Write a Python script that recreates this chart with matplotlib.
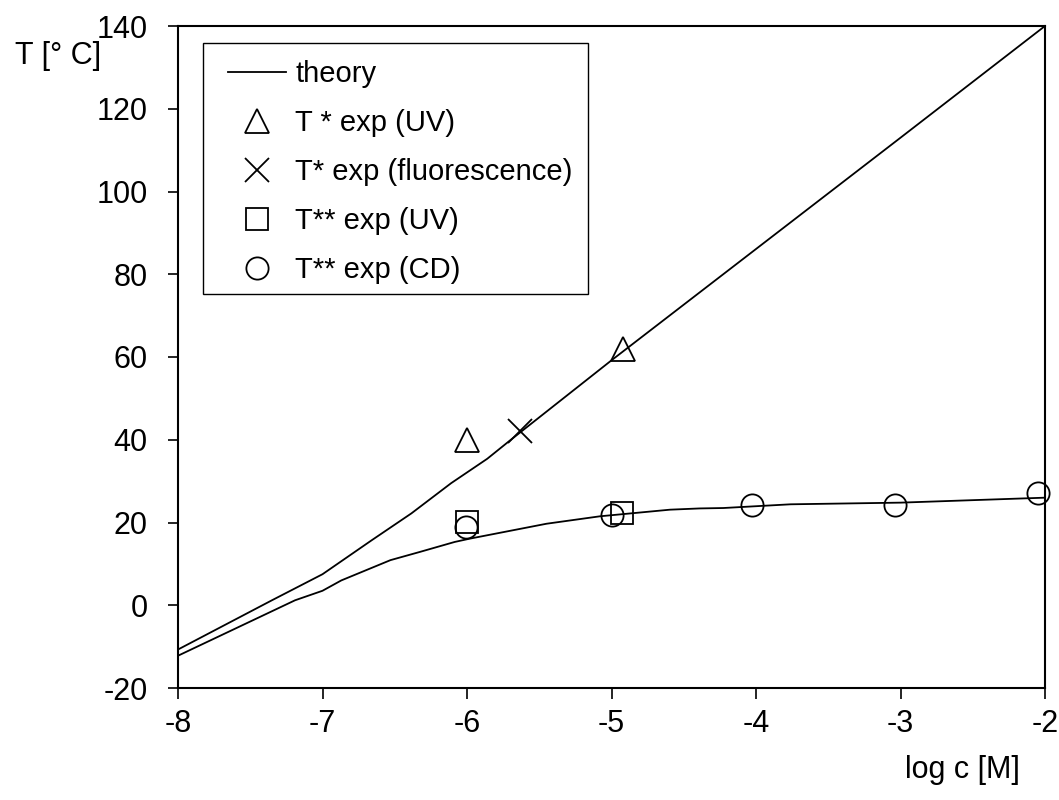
import matplotlib
matplotlib.use("Agg")
import matplotlib.pyplot as plt
from matplotlib.patches import Rectangle

# theory curves
theory_hi_x = [-8.0, -7.35, -7.0, -6.66, -6.385, -6.11, -5.86, -5.70, -5.0, -4.0, -3.0, -2.0]
theory_hi_y = [-10.7, 1.2, 7.5, 15.7, 22.2, 29.5, 35.4, 39.9, 59.2, 86.1, 113.0, 140.0]

theory_lo_x = [-8.0, -7.19, -7.0, -6.87, -6.53, -6.325, -6.085, -5.98, -5.45, -5.08,
               -4.595, -4.39, -4.226, -3.76, -3.0, -2.0]
theory_lo_y = [-12.2, 1.2, 3.5, 6.0, 10.9, 12.9, 15.3, 16.1, 19.7, 21.5,
               23.1, 23.4, 23.5, 24.4, 24.8, 26.0]

# experimental points
tri_x = [-6.0, -4.92]
tri_y = [40.0, 62.0]
cross_x = [-5.63]
cross_y = [42.0]
sq_x = [-6.0, -4.93]
sq_y = [20.1, 22.3]
circ_x = [-6.01, -5.0, -4.03, -3.04, -2.05]
circ_y = [18.9, 21.9, 24.2, 24.2, 27.1]

xticks = [-8, -7, -6, -5, -4, -3, -2]
yticks = [-20, 0, 20, 40, 60, 80, 100, 120, 140]

plt.rcParams['font.family'] = ['Liberation Sans', 'DejaVu Sans']
fs = 22

fig = plt.figure(figsize=(10.59, 8.0), dpi=100)
ax = fig.add_axes([178/1059, 1 - 688/800, (1045 - 178)/1059, (688 - 26)/800])

lw = 1.3
line_hi, = ax.plot(theory_hi_x, theory_hi_y, color='black', lw=lw, label='theory')
ax.plot(theory_lo_x, theory_lo_y, color='black', lw=lw)

mk = dict(linestyle='none', markerfacecolor='none', markeredgecolor='black',
          markeredgewidth=1.3, clip_on=False)
h_tri, = ax.plot(tri_x, tri_y, marker='^', markersize=17, label='T * exp (UV)', **mk)
h_x, = ax.plot(cross_x, cross_y, marker='x', markersize=17, label='T* exp (fluorescence)', **mk)
h_sq, = ax.plot(sq_x, sq_y, marker='s', markersize=16, label='T** exp (UV)', **mk)
h_c, = ax.plot(circ_x, circ_y, marker='o', markersize=16, label='T** exp (CD)', **mk)

ax.set_xlim(-8, -2)
ax.set_ylim(-20, 140)
ax.set_xticks(xticks)
ax.set_yticks(yticks)
ax.set_xticklabels([str(t) for t in xticks], fontsize=fs)
ax.set_yticklabels([str(t) for t in yticks], fontsize=fs)
ax.tick_params(axis='y', direction='out', length=7, width=1.2, pad=15)
ax.tick_params(axis='x', direction='out', length=8, width=1.2, pad=7)
for s in ax.spines.values():
    s.set_linewidth(1.5)

# legend frame drawn by hand, legend entries inside it
ax.add_patch(Rectangle((25/867, (688 - 294)/662), (588 - 203)/867, (294 - 43)/662,
                       transform=ax.transAxes, fill=False, edgecolor='black', lw=1.0))
ax.legend(handles=[line_hi, h_tri, h_x, h_sq, h_c], loc='upper left',
          bbox_to_anchor=((228 - 178)/867, (688 - 60)/662), frameon=False,
          fontsize=21, borderpad=0, borderaxespad=0, handlelength=2.0,
          handletextpad=0.3, labelspacing=0.72, numpoints=1)

fig.text(15/1059, 1 - 56/800, 'T [° C]', fontsize=fs, ha='left', va='center')
fig.text(1020/1059, 1 - 770/800, 'log c [M]', fontsize=fs, ha='right', va='center')

fig.savefig('out.png', dpi=100)
